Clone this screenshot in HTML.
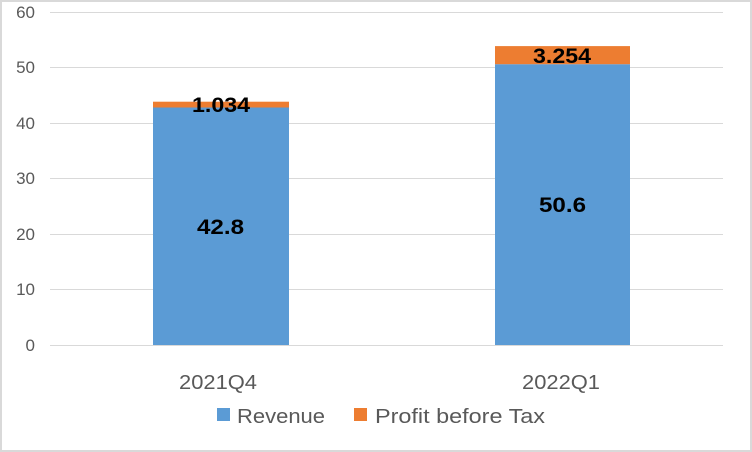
<!DOCTYPE html>
<html><head><style>
html,body{margin:0;padding:0;background:#fff;}
svg{display:block;font-family:"Liberation Sans",sans-serif;}
</style></head><body>
<svg width="752" height="452" viewBox="0 0 752 452">
<rect x="1" y="1" width="750" height="450" fill="#fff" stroke="#d9d9d9" stroke-width="2"/>
<g stroke="#d9d9d9" stroke-width="1">
<line x1="50" x2="723" y1="12.5" y2="12.5"/>
<line x1="50" x2="723" y1="67.5" y2="67.5"/>
<line x1="50" x2="723" y1="123.5" y2="123.5"/>
<line x1="50" x2="723" y1="178.5" y2="178.5"/>
<line x1="50" x2="723" y1="234.5" y2="234.5"/>
<line x1="50" x2="723" y1="289.5" y2="289.5"/>
<line x1="50" x2="723" y1="345.5" y2="345.5"/>
</g>
<g fill="#595959" font-size="17" text-anchor="end">
<text x="35" y="18">60</text>
<text x="35" y="73">50</text>
<text x="35" y="129">40</text>
<text x="35" y="184">30</text>
<text x="35" y="240">20</text>
<text x="35" y="295">10</text>
<text x="35" y="351">0</text>
</g>
<rect x="153" y="107.5" width="136" height="237.5" fill="#5b9bd5"/>
<rect x="153" y="101.7" width="136" height="5.8" fill="#ed7d31"/>
<rect x="495" y="64.2" width="135" height="280.8" fill="#5b9bd5"/>
<rect x="495" y="46.1" width="135" height="18.1" fill="#ed7d31"/>
<g font-size="21" font-weight="bold" fill="#000">
<text x="197" y="234" textLength="47" lengthAdjust="spacingAndGlyphs">42.8</text>
<text x="192" y="112" textLength="58" lengthAdjust="spacingAndGlyphs">1.034</text>
<text x="539" y="212" textLength="47" lengthAdjust="spacingAndGlyphs">50.6</text>
<text x="533" y="63" textLength="58" lengthAdjust="spacingAndGlyphs">3.254</text>
</g>
<g font-size="20" fill="#595959">
<text x="179" y="389" textLength="78" lengthAdjust="spacingAndGlyphs">2021Q4</text>
<text x="522" y="389" textLength="78" lengthAdjust="spacingAndGlyphs">2022Q1</text>
</g>
<rect x="217" y="408" width="13" height="13" fill="#5b9bd5"/>
<text x="237" y="423" font-size="20" fill="#595959" textLength="88" lengthAdjust="spacingAndGlyphs">Revenue</text>
<rect x="354" y="408" width="13" height="13" fill="#ed7d31"/>
<text x="375" y="423" font-size="20" fill="#595959" textLength="170" lengthAdjust="spacingAndGlyphs">Profit before Tax</text>
</svg>
</body></html>
